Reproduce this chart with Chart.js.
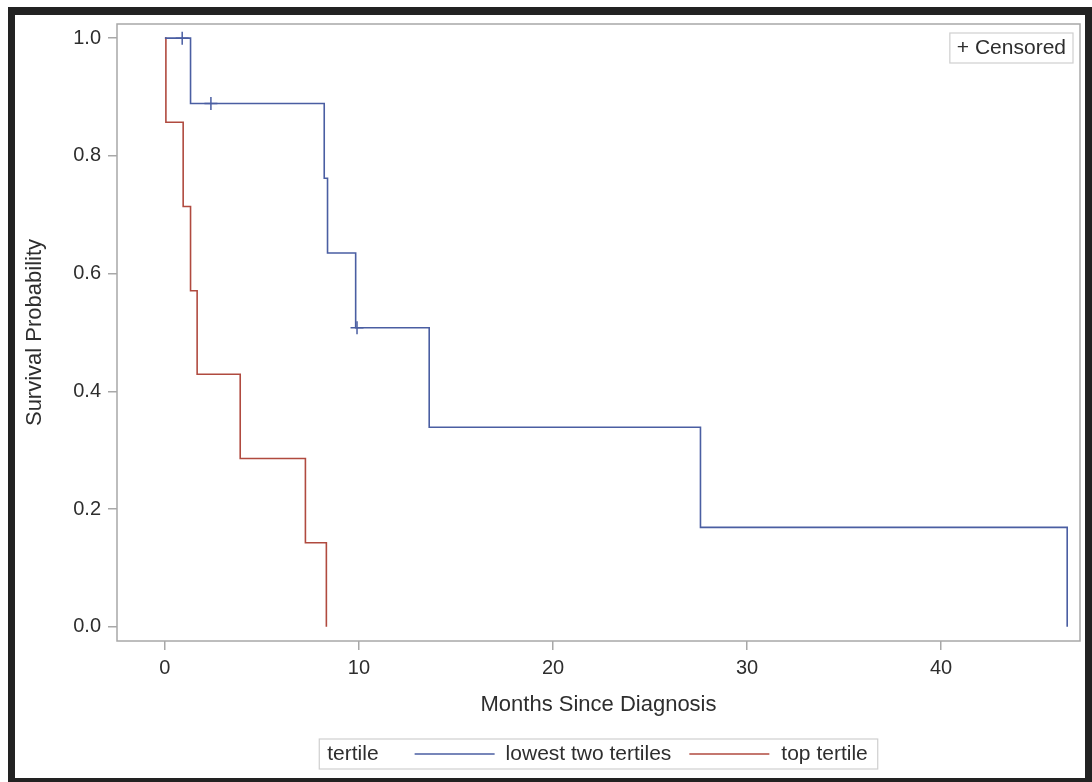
<!DOCTYPE html>
<html>
<head>
<meta charset="utf-8">
<script src="https://cdn.jsdelivr.net/npm/chart.js@4"></script>
<style>
  html, body { margin: 0; padding: 0; background: #fff; }
  #frame {
    position: absolute; left: 8px; top: 7px;
    width: 1070px; height: 763px;
    border-style: solid; border-color: #222;
    border-width: 8px 7px 4px 7px;
    background: #fff;
    overflow: hidden;
  }
  #km { display: block; }
</style>
</head>
<body>
<div id="frame"><canvas id="km" width="1073" height="763"></canvas></div>
<script>
const FONT = "'Liberation Sans', Arial, Helvetica, sans-serif";
const TEXT = '#2e2e2e';
const AXIS = '#a8a8a8';
const BLUE = '#4a5ea2';
const RED = '#b04a3f';

// axis ticks
const xTicks = [0, 10, 20, 30, 40];
const yTicks = [0, 0.2, 0.4, 0.6, 0.8, 1.0];

// lowest two tertiles: step points (time, survival)
const lowTimes = [0, 1.32, 8.21, 8.38, 9.83, 13.62, 27.6, 46.5];
const lowSurv = [1, 0.889, 0.762, 0.635, 0.508, 0.339, 0.169, 0];
const lowCensTimes = [0.89, 2.37, 9.9];
const lowCensSurv = [1, 0.889, 0.508];

// top tertile
const topTimes = [0, 0.05, 0.94, 1.32, 1.66, 3.88, 7.24, 8.32];
const topSurv = [1, 0.857, 0.714, 0.571, 0.429, 0.286, 0.143, 0];

const seriesNames = ['lowest two tertiles', 'top tertile'];
const legendTitle = 'tertile';
const censorLabel = '+ Censored';

const pts = (xs, ys) => xs.map((x, i) => ({ x, y: ys[i] }));

// keep the plot box where the reference has it
const noPad = s => { s.paddingLeft = 0; s.paddingRight = 0; s.paddingTop = 0; s.paddingBottom = 0; };

// frame around the plot plus the two boxed legends
const decorations = {
  id: 'decorations',
  afterDraw(chart) {
    const { ctx, chartArea: a } = chart;
    ctx.save();
    ctx.strokeStyle = AXIS;
    ctx.lineWidth = 1.5;
    ctx.strokeRect(a.left, a.top, a.right - a.left, a.bottom - a.top);

    ctx.font = '21px ' + FONT;
    ctx.textBaseline = 'middle';
    ctx.fillStyle = TEXT;

    // inset "+ Censored" box, top right
    const cw = ctx.measureText(censorLabel).width + 14;
    const cx = a.right - 7 - cw, cy = a.top + 9;
    ctx.strokeStyle = '#cfcfcf';
    ctx.lineWidth = 1.2;
    ctx.strokeRect(cx, cy, cw, 30);
    ctx.fillText(censorLabel, cx + 7, cy + 15);

    // bottom legend
    const lineLen = 80;
    const wTitle = ctx.measureText(legendTitle).width;
    const w1 = ctx.measureText(seriesNames[0]).width;
    const w2 = ctx.measureText(seriesNames[1]).width;
    const total = 8 + wTitle + 36 + lineLen + 11 + w1 + 18 + lineLen + 12 + w2 + 10;
    const lx = (a.left + a.right) / 2 - total / 2;
    const ly = 724, lh = 30, my = ly + lh / 2;
    ctx.strokeRect(lx, ly, total, lh);
    let x = lx + 8;
    ctx.fillText(legendTitle, x, my);
    x += wTitle + 36;
    [[BLUE, seriesNames[0], w1], [RED, seriesNames[1], w2]].forEach(([c, name, w], i) => {
      ctx.strokeStyle = c;
      ctx.lineWidth = 1.6;
      ctx.beginPath();
      ctx.moveTo(x, my);
      ctx.lineTo(x + lineLen, my);
      ctx.stroke();
      x += lineLen + (i === 0 ? 11 : 12);
      ctx.fillText(name, x, my);
      x += w + 18;
    });
    ctx.restore();
  }
};

new Chart(document.getElementById('km'), {
  type: 'line',
  data: {
    datasets: [
      {
        label: seriesNames[0],
        data: pts(lowTimes, lowSurv),
        stepped: true,
        borderColor: BLUE,
        borderWidth: 1.6,
        pointRadius: 0,
        fill: false
      },
      {
        label: seriesNames[1],
        data: pts(topTimes, topSurv),
        stepped: true,
        borderColor: RED,
        borderWidth: 1.6,
        pointRadius: 0,
        fill: false
      },
      {
        label: 'censored',
        data: pts(lowCensTimes, lowCensSurv),
        showLine: false,
        pointStyle: 'cross',
        pointRadius: 6.5,
        pointBorderWidth: 1.5,
        borderColor: BLUE,
        backgroundColor: BLUE
      }
    ]
  },
  options: {
    responsive: false,
    animation: false,
    layout: { padding: { top: 9, right: 0, bottom: 60, left: 0 } },
    plugins: {
      legend: { display: false },
      tooltip: { enabled: false }
    },
    scales: {
      x: {
        type: 'linear',
        min: -2.47,
        max: 47.16,
        afterBuildTicks: s => { s.ticks = xTicks.map(v => ({ value: v })); },
        afterFit: s => { s.height = 77; noPad(s); },
        grid: { drawOnChartArea: false, tickLength: 9, color: AXIS, lineWidth: 1.5 },
        border: { display: false },
        ticks: { color: TEXT, font: { family: FONT, size: 20 }, padding: 6, maxRotation: 0 },
        title: { display: true, text: 'Months Since Diagnosis', color: TEXT, font: { family: FONT, size: 22 }, padding: { top: 0, bottom: 0 } }
      },
      y: {
        type: 'linear',
        min: -0.024,
        max: 1.024,
        afterBuildTicks: s => { s.ticks = yTicks.map(v => ({ value: v })); },
        afterFit: s => { s.width = 102; noPad(s); },
        grid: { drawOnChartArea: false, tickLength: 9, color: AXIS, lineWidth: 1.5 },
        border: { display: false },
        ticks: { color: TEXT, font: { family: FONT, size: 20 }, padding: 7, callback: v => v.toFixed(1) },
        title: { display: true, text: 'Survival Probability', color: TEXT, font: { family: FONT, size: 22 }, padding: { top: 7, bottom: 0 } }
      }
    }
  },
  plugins: [decorations]
});
</script>
</body>
</html>
